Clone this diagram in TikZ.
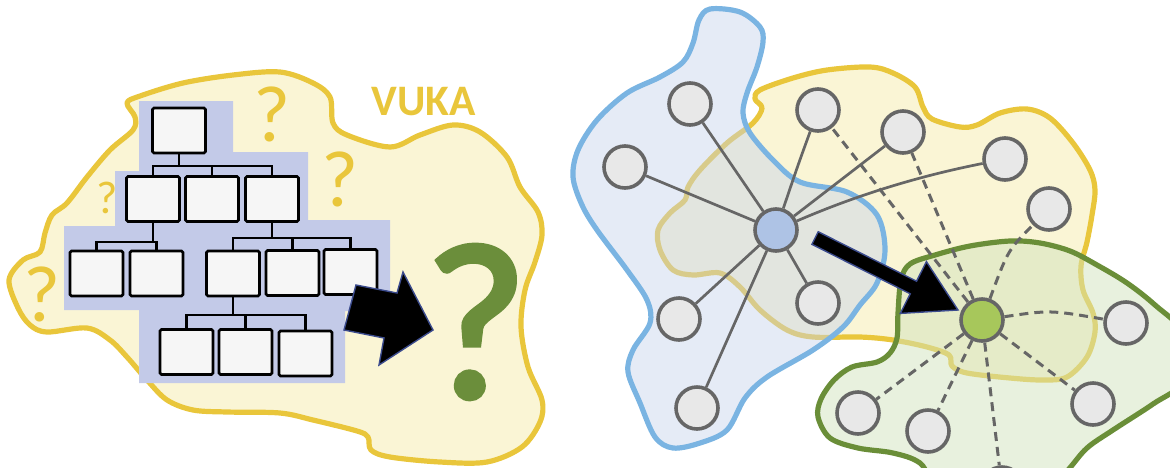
\documentclass[tikz,border=0pt]{standalone}
\usepackage{fontspec}
\setmainfont{Carlito}
\newfontfamily\heavyq[FakeBold=2.5]{Carlito}
\definecolor{blobY}{HTML}{FAF5D5}
\definecolor{lineY}{HTML}{E9C63B}
\definecolor{orgBlue}{HTML}{C3CAE8}
\definecolor{boxFill}{HTML}{F6F6F6}
\definecolor{qGreen}{HTML}{6B8E3B}
\definecolor{blobB}{HTML}{C6D3EB}
\definecolor{lineB}{HTML}{7AB4E2}
\definecolor{blobG}{HTML}{D1E3BD}
\definecolor{lineG}{HTML}{6A8E38}
\definecolor{nodeGray}{HTML}{E8E8E8}
\definecolor{edgeGray}{HTML}{666666}
\definecolor{hubBlue}{HTML}{AEC3E5}
\definecolor{hubGreen}{HTML}{A7C75B}
\definecolor{arrowEdge}{HTML}{3C4C8E}
\begin{document}
\begin{tikzpicture}[x=1pt,y=-1pt,
  blob/.style={line width=5.2pt, line join=round},
  orgbox/.style={draw=black, line width=2.6pt, fill=boxFill, rounded corners=1.5pt,
    minimum width=53pt, minimum height=45pt, inner sep=0pt},
  orgline/.style={draw=black, line width=2.2pt},
  qmark/.style={text=lineY, inner sep=0pt},
  peer/.style={circle, draw=edgeGray, line width=3.6pt, fill=nodeGray,
    minimum size=42pt, inner sep=0pt},
  tie/.style={draw=edgeGray, line width=2.7pt},
  looseTie/.style={draw=edgeGray, line width=3pt, dash pattern=on 9pt off 6pt},
  fatarrow/.style={fill=black, draw=arrowEdge, line width=1.4pt, line join=miter}]
\useasboundingbox (0,0) rectangle (1170,467);
\clip (0,0) rectangle (1170,467);

% ---------- left: hierarchy in a VUKA world ----------
\draw[blob, draw=lineY, fill=blobY] plot[smooth cycle, tension=0.55] coordinates {
  (127,103) (140,96) (183,83) (233,75) (280,72) (313,83) (330,97) (333,123)
  (347,135) (390,147) (420,135) (453,125) (480,132) (507,157) (520,187)
  (538,212) (542,235) (535,262) (525,290) (521,327) (528,367) (542,400)
  (540,422) (522,447) (487,462) (440,462) (390,457) (371,450) (368,437)
  (357,431) (313,420) (280,413) (227,412) (193,410) (167,400) (147,380)
  (127,357) (110,340) (87,328) (47,332) (30,325) (18,308) (9,280) (23,260)
  (40,252) (45,233) (52,215) (67,203) (87,177) (110,150) (133,130) (135,117)};

\fill[orgBlue] (139,101) -- (233,101) -- (233,152) -- (308,152) -- (308,220)
  -- (390,220) -- (390,311) -- (345,311) -- (345,383) -- (139,383) -- (139,310)
  -- (64,310) -- (64,226) -- (115,226) -- (115,171) -- (139,171) -- cycle;

\node[qmark, font=\fontsize{80}{80}\selectfont] (q1) at (272,114) {?};
\node[qmark, font=\fontsize{80}{80}\selectfont] (q2) at (340,179) {?};
\node[qmark, font=\fontsize{46}{46}\selectfont] (q3) at (107,198) {?};
\node[qmark, font=\fontsize{80}{80}\selectfont] (q4) at (42,294) {?};
\node[text=lineY, inner sep=0pt, font=\fontsize{43.5}{44}\selectfont\bfseries] (vuka) at (424,102) {VUKA};

% org chart
\node[orgbox] (top) at (179,130.5) {};
\node[orgbox] (r2a) at (153,199) {};
\node[orgbox] (r2b) at (212,199) {};
\node[orgbox] (r2c) at (272,199) {};
\node[orgbox] (r3a) at (96.5,273.5) {};
\node[orgbox] (r3b) at (156.5,273.5) {};
\node[orgbox] (r3c) at (233,273.5) {};
\node[orgbox] (r3d) at (292.5,273) {};
\node[orgbox] (r3e) at (350.5,272) {};
\node[orgbox] (r4a) at (186.5,352) {};
\node[orgbox] (r4b) at (245.5,352) {};
\node[orgbox] (r4c) at (305.5,353.5) {};

\coordinate (b1) at (179,166);
\coordinate (b2) at (153,242);
\coordinate (b3) at (272,238);
\coordinate (b4) at (233,315);
\draw[orgline] (top.south) -- (b1);
\draw[orgline] (r2a.north) |- (b1) -| (r2c.north);
\draw[orgline] (r2b.north) -- (r2b.north |- b1);
\draw[orgline] (r2a.south) -- (b2);
\draw[orgline] (r3a.north) |- (b2) -| (r3b.north);
\draw[orgline] (r2c.south) -- (b3);
\draw[orgline] (r3c.north) |- (b3) -| (r3e.north);
\draw[orgline] (r3d.north) -- (r3d.north |- b3);
\draw[orgline] (r3c.south) -- (b4);
\draw[orgline] (r4a.north) |- (b4) -| (r4c.north);
\draw[orgline] (r4b.north) -- (r4b.north |- b4);

\draw[fatarrow] (356,285) -- (397,293) -- (403,272) -- (433,330) -- (379,365)
  -- (384,338) -- (344,330) -- cycle;

\node[text=qGreen, inner sep=0pt, font=\fontsize{222}{222}\heavyq] (qbig) at (476,322) {?};

% ---------- right: overlapping networks ----------
\draw[blob, draw=lineY, fill=blobY] plot[smooth cycle, tension=0.55] coordinates {
  (760,90) (793,78) (827,70) (870,67) (893,73) (915,87) (923,107) (932,119)
  (960,127) (977,125) (1000,113) (1027,109) (1050,118) (1073,143) (1090,170)
  (1095,190) (1092,215) (1087,242) (1081,266) (1083,290) (1093,313) (1095,332)
  (1087,357) (1067,377) (1043,380) (1010,378) (967,373) (952,366) (949,355)
  (927,347) (893,340) (860,337) (813,337) (787,330) (760,310) (740,287)
  (720,273) (693,275) (673,270) (660,250) (658,230) (670,213) (685,200)
  (688,187) (700,170) (727,143) (753,123) (762,108) (755,99)};

\def\oldnet{(710,9) (740,12) (760,27) (763,42) (757,67) (747,93) (743,113) (750,133)
  (773,160) (800,182) (847,192) (877,215) (885,250) (877,283) (860,305)
  (843,327) (813,350) (767,377) (745,398) (727,430) (700,443) (673,448)
  (655,437) (640,403) (628,372) (633,350) (650,323) (647,300) (627,270)
  (597,230) (582,205) (573,177) (578,150) (597,120) (627,93) (660,77)
  (683,62) (693,43) (699,20)}
\fill[blobB, fill opacity=0.46] plot[smooth cycle, tension=0.55] coordinates {\oldnet};
\draw[blob, draw=lineB] plot[smooth cycle, tension=0.55] coordinates {\oldnet};

\def\newnet{(945,490) (920,463) (893,453) (858,448) (830,438) (818,417) (821,399)
  (834,380) (852,367) (877,362) (890,353) (897,338) (898,313) (901,280)
  (910,264) (935,255) (970,246) (1010,241) (1040,243) (1070,251) (1097,265)
  (1127,283) (1155,305) (1185,335) (1185,380) (1153,404) (1113,430)
  (1087,448) (1068,470) (1040,500)}
\fill[blobG, fill opacity=0.5] plot[smooth cycle, tension=0.55] coordinates {\newnet};
\draw[blob, draw=lineG] plot[smooth cycle, tension=0.55] coordinates {\newnet};

% network nodes
\node[peer, fill=hubBlue] (hub) at (776,230) {};
\node[peer, fill=hubGreen] (core) at (982,320) {};
\node[peer] (a) at (690,104) {};
\node[peer] (b) at (625,167) {};
\node[peer] (c) at (818,110) {};
\node[peer] (d) at (903,132) {};
\node[peer] (e) at (1005,159) {};
\node[peer] (f) at (1049,209) {};
\node[peer] (g) at (679,319) {};
\node[peer] (h) at (818,303) {};
\node[peer] (i) at (697,408) {};
\node[peer] (j) at (858,413) {};
\node[peer] (k) at (1126,323) {};
\node[peer] (l) at (1093,404) {};
\node[peer] (m) at (928,431) {};
\node[peer] (n) at (1002,488) {};

% fixed ties of the old hub
\draw[tie] (hub) -- (a);
\draw[tie] (hub) -- (b);
\draw[tie] (hub) .. controls (798,165) .. (c);
\draw[tie] (hub) -- (d);
\draw[tie] (hub) .. controls (880,185) and (950,170) .. (e);
\draw[tie] (hub) -- (g);
\draw[tie] (hub) -- (h);
\draw[tie] (hub) -- (i);

% loose ties of the new hub
\draw[looseTie] (core) -- (c);
\draw[looseTie] (core) -- (d);
\draw[looseTie] (core) .. controls (1008,250) .. (f);
\draw[looseTie] (core) .. controls (1050,310) .. (k);
\draw[looseTie] (core) -- (l);
\draw[looseTie] (core) -- (n);
\draw[looseTie] (core) -- (m);
\draw[looseTie] (core) -- (j);

% the shift from old hub to new hub
\draw[fatarrow] (811.9,244.3) -- (818.2,231.7) -- (916.5,281.2) -- (926.4,261.6)
  -- (958,310) -- (900.3,313.4) -- (910.2,293.8) -- cycle;
\end{tikzpicture}
\end{document}
